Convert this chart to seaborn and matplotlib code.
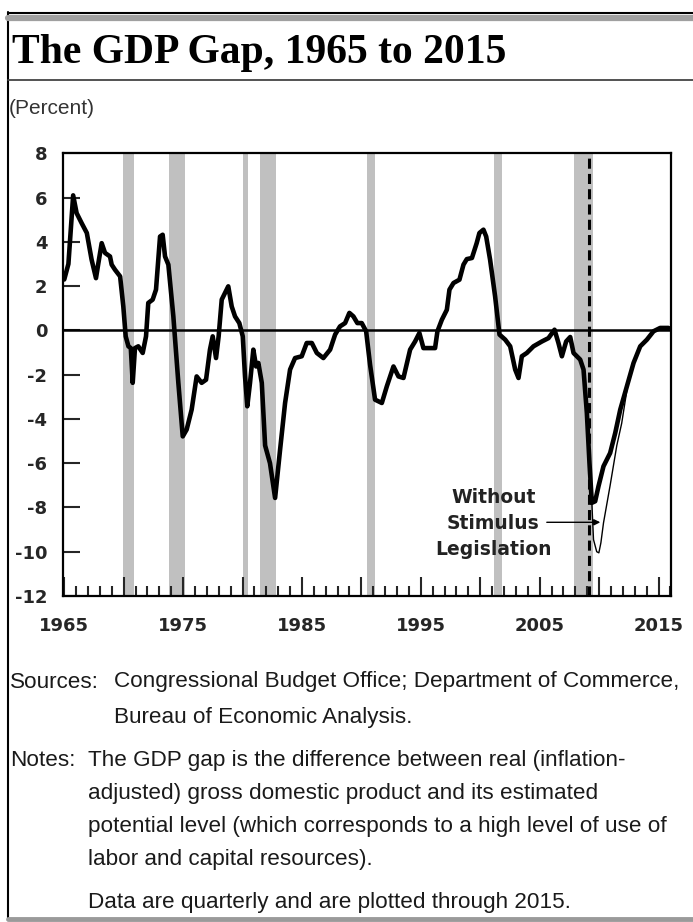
import matplotlib
matplotlib.use("Agg")
import matplotlib.pyplot as plt
from matplotlib.lines import Line2D
import seaborn as sns
import pandas as pd

# GDP gap (percent)
years = [1965.0, 1965.35, 1965.75, 1966.04, 1966.46, 1966.9, 1967.3, 1967.67, 1967.86, 1968.15,
         1968.43, 1968.85, 1968.99, 1969.27, 1969.7, 1969.97, 1970.17, 1970.4, 1970.6, 1970.76,
         1970.95, 1971.23, 1971.6, 1971.88, 1972.07, 1972.44, 1972.72, 1973.06, 1973.28, 1973.48,
         1973.76, 1974.18, 1974.6, 1974.97, 1975.3, 1975.72, 1976.14, 1976.56, 1976.93, 1977.26,
         1977.49, 1977.77, 1977.99, 1978.25, 1978.53, 1978.8, 1979.09, 1979.37, 1979.73, 1980.02,
         1980.21, 1980.4, 1980.63, 1980.91, 1981.14, 1981.33, 1981.62, 1981.9, 1982.31, 1982.74,
         1983.16, 1983.58, 1984.0, 1984.42, 1984.98, 1985.4, 1985.83, 1986.25, 1986.8, 1987.37,
         1987.79, 1988.2, 1988.63, 1988.99, 1989.33, 1989.66, 1990.03, 1990.4, 1990.73, 1991.15,
         1991.72, 1992.14, 1992.7, 1993.12, 1993.54, 1994.1, 1994.52, 1994.88, 1995.22, 1995.78,
         1996.2, 1996.4, 1996.77, 1997.19, 1997.41, 1997.75, 1998.25, 1998.59, 1998.87, 1999.3,
         1999.7, 1999.93, 2000.27, 2000.5, 2000.83, 2001.25, 2001.62, 2002.1, 2002.52, 2002.94,
         2003.22, 2003.5, 2003.92, 2004.48, 2005.19, 2005.74, 2006.25, 2006.58, 2006.87, 2007.23,
         2007.57, 2007.85, 2008.41, 2008.69, 2008.97, 2009.19, 2009.39, 2009.67, 2009.95, 2010.37,
         2010.93, 2011.36, 2011.78, 2012.34, 2012.9, 2013.46, 2014.02, 2014.58, 2015.14, 2015.84]
gap = [2.3, 3.0, 6.1, 5.3, 4.85, 4.4, 3.2, 2.36, 3.0, 3.94,
       3.5, 3.34, 2.97, 2.74, 2.44, 1.08, -0.27, -0.72, -0.8, -2.37,
       -0.8, -0.72, -1.02, -0.27, 1.24, 1.39, 1.84, 4.24, 4.32, 3.34,
       2.97, 0.63, -2.37, -4.79, -4.48, -3.58, -2.08, -2.37, -2.23, -0.87,
       -0.27, -1.25, -0.27, 1.39, 1.69, 1.99, 1.08, 0.63, 0.33, -0.27,
       -2.08, -3.43, -2.37, -0.87, -1.63, -1.47, -2.37, -5.2, -6.0, -7.57,
       -5.39, -3.28, -1.77, -1.25, -1.17, -0.57, -0.57, -1.02, -1.25, -0.87,
       -0.19, 0.18, 0.33, 0.79, 0.63, 0.33, 0.33, -0.04, -1.55, -3.13,
       -3.28, -2.53, -1.63, -2.08, -2.15, -0.87, -0.5, -0.12, -0.8, -0.8,
       -0.8, -0.04, 0.48, 0.93, 1.84, 2.14, 2.29, 2.97, 3.22, 3.27,
       3.94, 4.4, 4.55, 4.24, 3.19, 1.54, -0.19, -0.42, -0.72, -1.77,
       -2.15, -1.17, -1.02, -0.72, -0.5, -0.35, 0.03, -0.57, -1.17, -0.5,
       -0.3, -1.02, -1.32, -1.77, -3.73, -5.99, -7.79, -7.72, -7.04, -6.14,
       -5.54, -4.63, -3.58, -2.53, -1.47, -0.72, -0.42, -0.04, 0.11, 0.11]

# gap without stimulus legislation
ns_years = [2009.19, 2009.39, 2009.53, 2009.8, 2009.98, 2010.15, 2010.37, 2010.93, 2011.49, 2011.9, 2012.34]
ns_gap = [-5.99, -7.79, -9.45, -10.0, -10.05, -9.6, -8.7, -7.0, -5.2, -4.2, -2.7]

# recessions (start, end)
rec_start = [1969.92, 1973.83, 1980.0, 1981.5, 1990.5, 2001.17, 2007.92]
rec_end = [1970.83, 1975.17, 1980.5, 1982.83, 1991.17, 2001.83, 2009.5]
stimulus_year = 2009.15

tick_years = list(range(1965, 2016, 5))
tick_labels = [str(y) if (y - 1965) % 10 == 0 else "" for y in tick_years]
y_ticks = list(range(-12, 9, 2))

sns.set_style("white")
plt.rcParams["axes.unicode_minus"] = False

W, H = 693, 922
fig = plt.figure(figsize=(W / 100, H / 100), dpi=100)


def fx(px):
    return px / W


def fy(py):
    return 1 - py / H


ax = fig.add_axes([fx(62.7), fy(596), fx(671) - fx(62.7), fy(153.3) - fy(596)])

for s, e in zip(rec_start, rec_end):
    ax.axvspan(s, e, color="#c0c0c0", lw=0, zorder=0)

ax.axhline(0, color="black", lw=1.8, zorder=2)
ax.axvline(stimulus_year, color="black", lw=2.2, ls=(0, (3.3, 1.7)), zorder=3)

df = pd.DataFrame({"year": years, "gap": gap})
ns = pd.DataFrame({"year": ns_years, "gap": ns_gap})
sns.lineplot(data=ns, x="year", y="gap", color="black", lw=1.0, ax=ax, zorder=4)
sns.lineplot(data=df, x="year", y="gap", color="black", lw=3.3, ax=ax, zorder=5)

ax.set_xlim(1964.87, 2016.05)
ax.set_ylim(-12, 8)
ax.set_xlabel("")
ax.set_ylabel("")
ax.set_xticks(tick_years)
ax.set_xticklabels(tick_labels)
ax.set_xticks(range(1965, 2017), minor=True)
ax.set_yticks(y_ticks)
ax.set_yticklabels([str(v) for v in y_ticks])
ax.tick_params(axis="x", which="major", direction="in", length=14, width=1.5, pad=15,
               bottom=True, top=False, labelsize=13)
ax.tick_params(axis="x", which="minor", direction="in", length=7, width=1.5,
               bottom=True, top=False)
ax.tick_params(axis="y", direction="in", length=12, width=1.5, pad=11,
               left=True, right=False, labelsize=13)
for lab in ax.get_xticklabels() + ax.get_yticklabels():
    lab.set_fontweight("bold")
    lab.set_family("DejaVu Sans")
for sp in ax.spines.values():
    sp.set_visible(True)
    sp.set_color("black")
    sp.set_linewidth(1.6)

ax.text(2001.1, -8.72, "Without\nStimulus\nLegislation", ha="center", va="center",
        fontsize=13.5, fontweight="bold", color="#222222", linespacing=1.45, zorder=6)
ax.annotate("", xy=(2010.1, -8.67), xytext=(2005.6, -8.67),
            arrowprops=dict(arrowstyle="-|>", color="black", lw=1.0,
                            mutation_scale=9, shrinkA=0, shrinkB=0), zorder=6)

# frame and header rules
fig.add_artist(Line2D([fx(8), fx(8)], [fy(12), fy(918)], color="black", lw=1.5))
fig.add_artist(Line2D([fx(8), 1], [fy(13.5), fy(13.5)], color="black", lw=1.5))
fig.add_artist(Line2D([fx(8), 1], [fy(18), fy(18)], color="#a0a0a0", lw=4.5))
fig.add_artist(Line2D([fx(8), 1], [fy(80.5), fy(80.5)], color="#444444", lw=1.3))
fig.add_artist(Line2D([fx(8), 1], [fy(919), fy(919)], color="#9a9a9a", lw=3.5))

fig.text(fx(12), fy(63), "The GDP Gap, 1965 to 2015", family="Liberation Serif",
         fontweight="bold", fontsize=30, va="baseline", ha="left", color="black")
fig.text(fx(9), fy(108), "(Percent)", family="Liberation Sans", fontsize=15,
         va="center", ha="left", color="#333333")

note_kw = dict(family="Liberation Sans", fontsize=16.2, va="center", ha="left", color="#1a1a1a")
fig.text(fx(10), fy(682), "Sources:", **note_kw)
fig.text(fx(114), fy(682), "Congressional Budget Office; Department of Commerce,", **note_kw)
fig.text(fx(114), fy(717), "Bureau of Economic Analysis.", **note_kw)
fig.text(fx(10), fy(760), "Notes:", **note_kw)
fig.text(fx(88), fy(760), "The GDP gap is the difference between real (inflation-", **note_kw)
fig.text(fx(88), fy(793), "adjusted) gross domestic product and its estimated", **note_kw)
fig.text(fx(88), fy(826), "potential level (which corresponds to a high level of use of", **note_kw)
fig.text(fx(88), fy(859), "labor and capital resources).", **note_kw)
fig.text(fx(88), fy(902), "Data are quarterly and are plotted through 2015.", **note_kw)

fig.savefig("out.png", dpi=100)
